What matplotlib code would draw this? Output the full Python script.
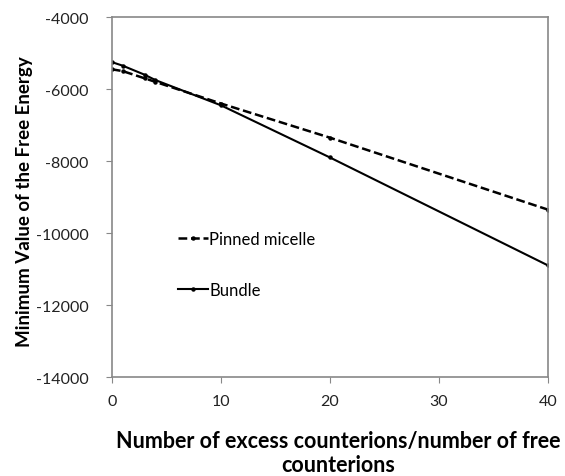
import matplotlib.pyplot as plt

# data
x_vals = [0, 1, 3, 4, 10, 20, 40]
pinned = [-5450, -5500, -5700, -5800, -6400, -7350, -9350]
bundle = [-5250, -5350, -5600, -5750, -6450, -7900, -10900]

x_ticks = [0, 10, 20, 30, 40]
y_ticks = [-14000, -12000, -10000, -8000, -6000, -4000]

plt.rcParams['font.family'] = ['Lato', 'DejaVu Sans']
plt.rcParams['axes.unicode_minus'] = False

fig = plt.figure(figsize=(5.65, 4.77), dpi=100)
ax = fig.add_axes([0.198, 0.2075, 0.772, 0.7545])

ax.plot(x_vals, pinned, color='black', linestyle=(0, (3.5, 1.5)), linewidth=1.8,
        marker='o', markersize=2.2, label='Pinned micelle')
ax.plot(x_vals, bundle, color='black', linestyle='-', linewidth=1.5,
        marker='o', markersize=2.2, label='Bundle')

ax.set_xlim(0, 40)
ax.set_ylim(-14000, -4000)
ax.set_xticks(x_ticks)
ax.set_yticks(y_ticks)
ax.tick_params(direction='out', length=4, color='#888888', labelsize=11.5,
               labelcolor='#222222')
ax.tick_params(axis='y', pad=13)
ax.tick_params(axis='x', pad=8)

for s in ax.spines.values():
    s.set_color('#888888')
    s.set_linewidth(1.2)

ax.set_ylabel('Minimum Value of the Free Energy', fontsize=13.5, fontweight='bold')
ax.yaxis.set_label_coords(-0.18, 0.489)
ax.set_xlabel('Number of excess counterions/number of free\ncounterions',
              fontsize=15.5, fontweight='bold', linespacing=1.15, va='center')
ax.xaxis.set_label_coords(0.518, -0.21)

leg = ax.legend(loc='upper left', bbox_to_anchor=(0.151, 0.405), frameon=False,
                fontsize=12, labelspacing=2.1, handlelength=1.8, handletextpad=0.1,
                borderpad=0, borderaxespad=0)

fig.savefig('out.png', dpi=100)
